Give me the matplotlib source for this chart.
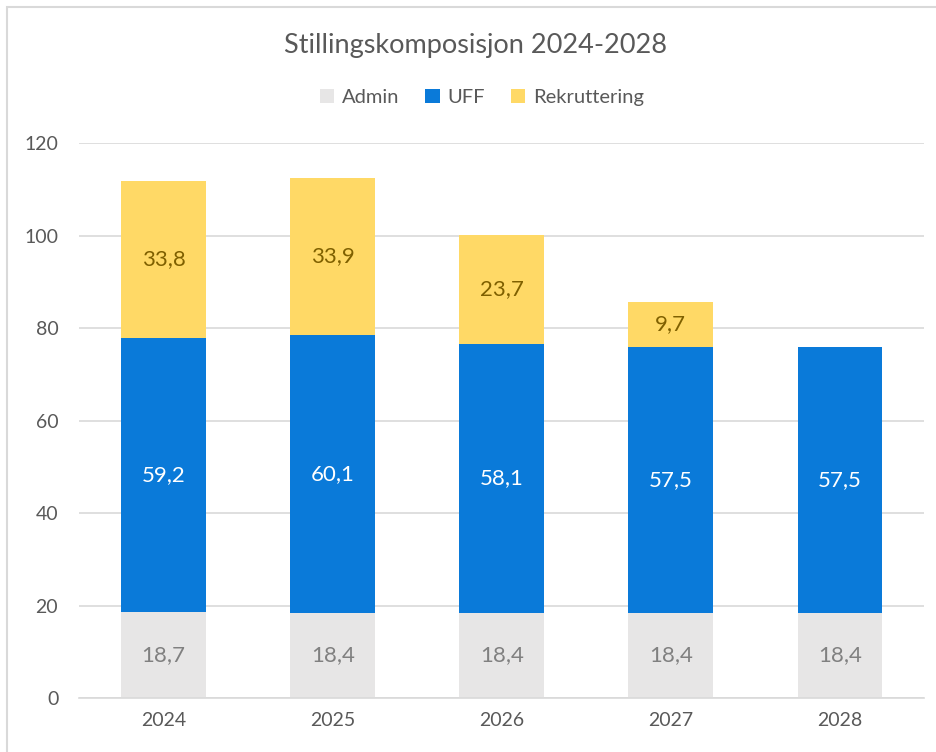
import matplotlib.pyplot as plt
import numpy as np
from matplotlib.patches import Rectangle

years = ['2024', '2025', '2026', '2027', '2028']
admin = [18.7, 18.4, 18.4, 18.4, 18.4]
uff = [59.2, 60.1, 58.1, 57.5, 57.5]
rekruttering = [33.8, 33.9, 23.7, 9.7, 0]

plt.rcParams['font.family'] = ['Lato', 'DejaVu Sans']
grey_txt = '#595959'

fig = plt.figure(figsize=(9.36, 7.52), dpi=100)
ax = fig.add_axes([0.0845, 0.0718, 0.903, 0.738])

x = np.arange(len(years))
w = 0.5
ax.bar(x, admin, w, color='#E7E6E6', label='Admin', zorder=2)
ax.bar(x, uff, w, bottom=admin, color='#0A7AD9', label='UFF', zorder=2)
bottom2 = np.array(admin) + np.array(uff)
ax.bar(x, rekruttering, w, bottom=bottom2, color='#FFD966', label='Rekruttering', zorder=2)

for i in range(len(years)):
    ax.text(x[i], admin[i] / 2, f'{admin[i]:.1f}'.replace('.', ','), ha='center', va='center',
            color='#808080', fontsize=16)
    ax.text(x[i], admin[i] + uff[i] / 2, f'{uff[i]:.1f}'.replace('.', ','), ha='center', va='center',
            color='white', fontsize=16)
    if rekruttering[i] > 0:
        ax.text(x[i], bottom2[i] + rekruttering[i] / 2, f'{rekruttering[i]:.1f}'.replace('.', ','),
                ha='center', va='center', color='#7F6000', fontsize=16)

ax.set_xlim(-0.5, 4.5)
ax.set_ylim(0, 120)
ax.set_yticks(range(0, 121, 20))
ax.set_xticks(x)
ax.set_xticklabels(years)
ax.tick_params(length=0, labelsize=14, colors=grey_txt)
ax.tick_params(axis='y', pad=15)
ax.tick_params(axis='x', pad=10)
ax.yaxis.grid(True, color='#D9D9D9', linewidth=1.2, zorder=0)
ax.set_axisbelow(True)
for s in ['top', 'right', 'left']:
    ax.spines[s].set_visible(False)
ax.spines['bottom'].set_color('#D9D9D9')
ax.spines['bottom'].set_linewidth(1.2)

fig.text(0.508, 0.94, 'Stillingskomposisjon 2024-2028', ha='center', va='center',
         fontsize=19.5, color=grey_txt)
fig.legend(loc='center', bbox_to_anchor=(0.515, 0.87), ncol=3, frameon=False,
           fontsize=14.5, handlelength=0.7, handleheight=0.7, handletextpad=0.4,
           columnspacing=1.3, labelcolor=grey_txt)

fig.patches.append(Rectangle((7 / 936, -0.01), 1 - 7 / 936 + 0.01, 1 - 7 / 752 + 0.01,
                             transform=fig.transFigure, fill=False,
                             edgecolor='#D9D9D9', linewidth=1.5))

fig.savefig('out.png', dpi=100)
